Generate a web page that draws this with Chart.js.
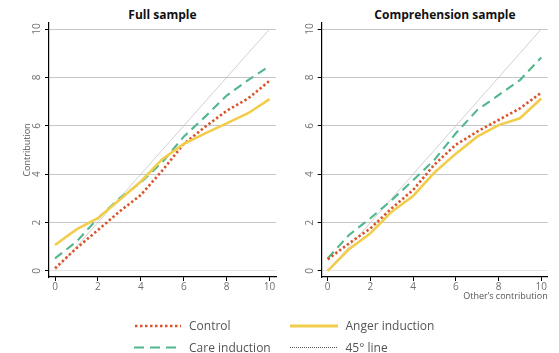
<!DOCTYPE html>
<html>
<head>
<meta charset="utf-8">
<script src="https://cdn.jsdelivr.net/npm/chart.js@4/dist/chart.umd.min.js"></script>
<style>
  html, body { margin: 0; padding: 0; background: #fff; }
  body { width: 559px; height: 353px; position: relative; overflow: hidden; font-family: "Open Sans", sans-serif; }
  canvas { position: absolute; top: 0; }
  #c1 { left: 0; }
  #c2 { left: 280px; }
  .ptitle { position: absolute; top: 6px; font: bold 12px "Open Sans", sans-serif; color: #111; transform: translateX(-50%); white-space: nowrap; }
  .lg { position: absolute; font: 12px "Open Sans", sans-serif; color: #555; white-space: nowrap; line-height: 14px; }
  svg.sw { position: absolute; overflow: visible; }
</style>
</head>
<body>
<div class="ptitle" style="left:162.5px">Full sample</div>
<div class="ptitle" style="left:445px">Comprehension sample</div>
<canvas id="c1" width="280" height="305"></canvas>
<canvas id="c2" width="279" height="305"></canvas>

<svg class="sw" style="left:0;top:0" width="559" height="353">
  <line x1="135" y1="326" x2="181" y2="326" stroke="#d9532b" stroke-width="2.5" stroke-dasharray="2.5 2.5"/>
  <line x1="290" y1="326" x2="338" y2="326" stroke="#f2cd4b" stroke-width="3"/>
  <line x1="134" y1="347.5" x2="182" y2="347.5" stroke="#52b78c" stroke-width="2" stroke-dasharray="10 6"/>
  <line x1="290" y1="347.5" x2="338" y2="347.5" stroke="#555" stroke-width="1" stroke-dasharray="1 1"/>
</svg>
<div class="lg" style="left:189px;top:319px">Control</div>
<div class="lg" style="left:345.5px;top:319px">Anger induction</div>
<div class="lg" style="left:189px;top:340.5px">Care induction</div>
<div class="lg" style="left:345.5px;top:340.5px">45° line</div>

<script>
const xValues = [0, 1, 2, 3, 4, 5, 6, 7, 8, 9, 10];
const diagonal = [0, 1, 2, 3, 4, 5, 6, 7, 8, 9, 10];
const xTicks = [0, 2, 4, 6, 8, 10];
const yTicks = [0, 2, 4, 6, 8, 10];

const fullControl = [0.11, 0.94, 1.69, 2.45, 3.14, 4.15, 5.25, 5.96, 6.62, 7.13, 7.86];
const fullAnger   = [1.07, 1.72, 2.18, 2.93, 3.70, 4.62, 5.25, 5.69, 6.10, 6.52, 7.10];
const fullCare    = [0.52, 1.21, 2.18, 3.00, 3.65, 4.50, 5.55, 6.38, 7.25, 7.89, 8.47];

const compControl = [0.48, 1.14, 1.76, 2.59, 3.35, 4.40, 5.22, 5.76, 6.24, 6.72, 7.37];
const compAnger   = [0.00, 0.90, 1.56, 2.45, 3.10, 4.07, 4.85, 5.55, 6.03, 6.31, 7.13];
const compCare    = [0.52, 1.49, 2.18, 2.93, 3.75, 4.60, 5.69, 6.65, 7.27, 7.89, 8.83];

const RED = '#d9532b', GREEN = '#52b78c', YELLOW = '#f2cd4b', DIAG = '#c4c4c4';
const TICKFONT = { family: '"Open Sans", sans-serif', size: 10 };
const TITLEFONT = { family: '"Open Sans", sans-serif', size: 9 };

function pts(ys) { return xValues.map((x, i) => ({ x: x, y: ys[i] })); }

function makeChart(id, control, anger, care, opts) {
  const datasets = [
    { label: 'Anger induction', data: pts(anger), borderColor: YELLOW, borderWidth: 2.6 },
    { label: 'Control', data: pts(control), borderColor: RED, borderWidth: 2.6, borderDash: [2.4, 2.4] },
    { label: 'Care induction', data: pts(care), borderColor: GREEN, borderWidth: 2.1, borderDash: [9, 5.5] },
    { label: '45° line', data: pts(diagonal), borderColor: DIAG, borderWidth: 0.8 }
  ];
  datasets.forEach(d => { d.pointRadius = 0; d.fill = false; d.tension = 0; });
  return new Chart(document.getElementById(id), {
    type: 'line',
    data: { datasets: datasets },
    options: {
      responsive: false,
      animation: false,
      devicePixelRatio: 1,
      layout: { padding: opts.padding },
      plugins: { legend: { display: false }, title: { display: false }, tooltip: { enabled: false } },
      scales: {
        x: {
          type: 'linear', min: -0.28, max: 10.3,
          afterBuildTicks: s => { s.ticks = xTicks.map(v => ({ value: v })); },
          afterFit: s => { s.height = 28; },
          grid: { display: true, drawOnChartArea: false, tickLength: 4, tickColor: '#000', tickWidth: 1 },
          border: { display: true, color: '#000', width: 1.2 },
          ticks: { font: TICKFONT, color: '#707070', padding: 0, maxRotation: 0, minRotation: 0 },
          title: opts.xTitle ? { display: true, text: opts.xTitle, align: 'end', color: '#555', font: TITLEFONT, padding: { top: 0, bottom: 2.9 } } : { display: false }
        },
        y: {
          type: 'linear', min: -0.25, max: 10.25,
          afterBuildTicks: s => { s.ticks = yTicks.map(v => ({ value: v })); },
          afterFit: s => { s.width = opts.yWidth; },
          grid: {
            display: true, drawOnChartArea: true, tickLength: 4, tickColor: '#000', lineWidth: 1,
            color: c => (c.tick && c.tick.value === 0) ? '#e6e6e6' : '#c6c6c6'
          },
          border: { display: true, color: '#000', width: 1.2 },
          ticks: { font: TICKFONT, color: '#707070', padding: 2, minRotation: 90, maxRotation: 90, crossAlign: 'center' },
          title: opts.yTitle ? { display: true, text: opts.yTitle, color: '#555', font: TITLEFONT, padding: { top: 21.6, bottom: 0 } } : { display: false }
        }
      }
    }
  });
}

makeChart('c1', fullControl, fullAnger, fullCare, {
  padding: { left: 0, right: 4, top: 23, bottom: 0 }, yWidth: 49, yTitle: 'Contribution', xTitle: null
});
makeChart('c2', compControl, compAnger, compCare, {
  padding: { left: 0, right: 11.3, top: 23, bottom: 0 }, yWidth: 41.7, yTitle: null, xTitle: 'Other’s contribution'
});
</script>
</body>
</html>
